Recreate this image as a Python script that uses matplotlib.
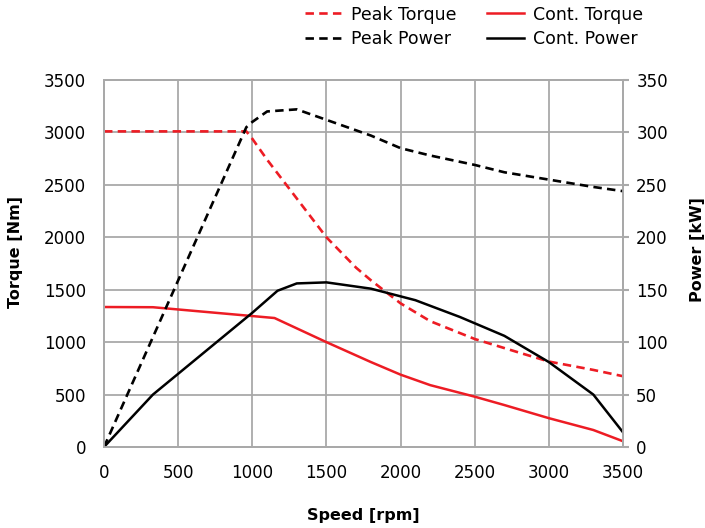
import matplotlib
matplotlib.use('Agg')
import matplotlib.pyplot as plt

# peak curves
peak_speed = [0, 960, 1000, 1100, 1300, 1500, 1700, 1800, 2000, 2200, 2500, 2800, 3000, 3300, 3500]
peak_torque = [3010, 3010, 2940, 2740, 2370, 2000, 1710, 1590, 1370, 1200, 1030, 900, 815, 735, 675]
peak_power_speed = [0, 960, 1000, 1100, 1300, 1500, 1800, 2000, 2200, 2500, 2700, 3000, 3300, 3500]
peak_power = [0, 305, 310, 320, 322, 312, 297, 285, 278, 269, 262, 255, 248, 244]

# continuous curves
cont_speed = [0, 330, 1150, 1500, 1800, 2000, 2200, 2500, 2700, 3000, 3300, 3500]
cont_torque = [1335, 1333, 1230, 1000, 810, 690, 590, 480, 400, 275, 162, 55]
cont_power_speed = [0, 330, 1000, 1170, 1300, 1500, 1800, 2100, 2400, 2700, 3000, 3300, 3500]
cont_power = [0, 50, 128, 149, 156, 157, 151, 140, 124, 106, 81, 50, 14]

red = '#ed1c24'
grid_c = '#a9a9a9'

fig = plt.figure(figsize=(7.05, 5.28), dpi=100)
ax = fig.add_axes([104/705, 1-447/528, 519/705, 367/528])
ax2 = ax.twinx()

l1, = ax.plot(peak_speed, peak_torque, color=red, lw=1.9, dashes=(3.2, 2.0), label='Peak Torque')
l3, = ax.plot(cont_speed, cont_torque, color=red, lw=1.8, label='Cont. Torque')
l2, = ax2.plot(peak_power_speed, peak_power, color='black', lw=1.9, dashes=(3.2, 2.0), label='Peak Power')
l4, = ax2.plot(cont_power_speed, cont_power, color='black', lw=1.8, label='Cont. Power')

ax.set_xlim(0, 3500)
ax.set_ylim(0, 3500)
ax2.set_ylim(0, 350)
ax.set_xticks(range(0, 3501, 500))
ax.set_yticks(range(0, 3501, 500))
ax2.set_yticks(range(0, 351, 50))

ax.grid(True, color=grid_c, lw=1.3)
ax.set_axisbelow(True)
for a in (ax, ax2):
    for s in a.spines.values():
        s.set_color(grid_c)
        s.set_linewidth(1.3)

ax.tick_params(axis='both', length=0, labelsize=12)
ax.tick_params(axis='x', pad=12)
ax.tick_params(axis='y', pad=13)
ax2.tick_params(axis='y', length=4.5, width=1.5, color=grid_c, labelsize=12, pad=5)

ax.set_xlabel('Speed [rpm]', fontsize=11.5, fontweight='bold', va='center')
ax.set_ylabel('Torque [Nm]', fontsize=11.5, fontweight='bold', va='center')
ax2.set_ylabel('Power [kW]', fontsize=11.5, fontweight='bold', va='center')
ax.xaxis.set_label_coords(0.5, -0.188)
ax.yaxis.set_label_coords(-0.17, 0.53)
ax2.yaxis.set_label_coords(1.143, 0.537)

fig.legend(handles=[l1, l2, l3, l4], ncol=2, loc='center', bbox_to_anchor=(474/705, 1-27/528),
           frameon=False, fontsize=12.5, handlelength=2.1, handletextpad=0.55,
           columnspacing=1.8, labelspacing=0.4, borderpad=0)

fig.savefig('out.png', dpi=100)
